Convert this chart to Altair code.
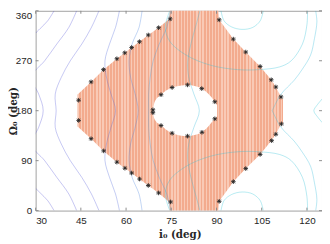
import altair as alt
import pandas as pd

# ---------------- axes ----------------
x_ticks = [30, 45, 60, 75, 90, 105, 120]
y_ticks = [0, 90, 180, 270, 360]
x_domain = [30, 125]
y_domain = [0, 360]

# ---------------- feasible region (outer boundary) ----------------
reg_i = [43.9, 48.39, 52.49, 56.95, 59.56, 61.84, 64.44, 67.37, 70.79, 74.3, 74.5,
         90.6, 90.9, 95.59, 99.7, 104.48, 108.16, 109.69, 111.41, 112.06]
reg_lo = [151.5, 129.5, 107.6, 87.3, 76.4, 67.7, 56.9, 45.3, 31.8, 15.6, 0,
          0, 16.7, 52.1, 75.7, 101.2, 126.0, 137.6, 156.2, 157.3]
reg_hi = [209.3, 231.9, 254.0, 273.6, 284.3, 293.9, 304.3, 316.4, 329.5, 345.4, 360,
          360, 343.7, 309.0, 285.7, 259.7, 235.7, 222.7, 204.8, 200.7]

# ---------------- hole ----------------
hole_i = [68.9, 69.5, 71.6, 75.28, 80.39, 85.1, 89.44, 90.2]
hole_lo = [176.4, 164.0, 153.3, 139.4, 134.2, 141.1, 165.4, 170.0]
hole_hi = [181.6, 196.0, 208.8, 221.8, 226.5, 219.8, 196.1, 190.0]

# ---------------- boundary markers ----------------
mark_i = [74.63, 70.79, 67.37, 64.44, 61.84, 59.56, 56.95, 52.49, 48.39, 44.26, 44.26,
          48.39, 52.56, 56.95, 59.62, 61.84, 64.47, 67.37, 70.79, 74.76,
          90.9, 95.59, 99.7, 104.48, 108.29, 109.69, 111.54,
          111.41, 109.69, 108.16, 104.48, 99.7, 95.59, 90.9,
          71.6, 75.28, 80.39, 85.1, 89.44, 68.9, 68.9, 71.6, 75.28, 80.39, 85.18, 89.44]
mark_om = [345.4, 329.5, 316.4, 304.3, 293.9, 284.3, 273.6, 254.0, 231.9, 198.9, 162.5,
           129.5, 107.6, 87.3, 76.4, 67.7, 56.9, 45.3, 31.8, 15.6,
           16.7, 52.1, 75.7, 101.2, 126.0, 137.6, 156.2,
           204.8, 222.7, 235.7, 259.7, 285.7, 309.0, 343.7,
           208.8, 221.8, 226.5, 219.8, 196.1, 181.6, 176.4, 153.3, 139.4, 134.2, 141.1, 165.4]

# ---------------- contour lines ----------------
om_full = [0, 30, 60, 90, 120, 150, 180, 210, 240, 270, 300, 330, 360]
c1b_i = [36.1, 34.0, 31.5, 30.0];  c1b_om = [0, 18, 32, 40]
c1t_i = [30.0, 31.5, 34.0, 36.1];  c1t_om = [320, 328, 342, 360]
c2_i = [43.6, 41.0, 37.0, 33.0, 28.5, 31.0, 32.5, 31.0, 28.5, 33.0, 37.0, 41.0, 43.6]
c3_i = [51.0, 48.5, 45.3, 41.5, 38.5, 36.5, 36.8, 36.5, 38.5, 41.5, 45.3, 48.5, 51.0]
c4_i = [57.8, 56.5, 54.5, 53.0, 53.5, 55.0, 56.5, 55.0, 53.5, 53.0, 54.5, 56.5, 57.8]
c5_i = [65.3, 64.3, 62.0, 61.0, 61.5, 63.0, 64.0, 63.0, 61.5, 61.0, 62.0, 64.3, 65.3]
c6_i = [74.8, 73.5, 71.0, 69.0, 68.0, 67.5, 67.5, 67.5, 68.0, 69.0, 71.0, 73.5, 74.8]
c7_i = [84.5, 83.0, 81.5, 80.5, 80.8, 82.5, 84.3, 82.5, 80.8, 80.5, 81.5, 83.0, 84.5]
r1b_i = [91.5, 92.5, 95.0, 98.5, 102.0, 104.5, 105.5]; r1b_om = [0, 18, 29, 33.5, 30, 18, 0]
r1t_i = [91.5, 92.5, 95.0, 98.5, 102.0, 104.5, 105.5]; r1t_om = [360, 342, 331, 326.5, 330, 342, 360]
r2b_i = [74.5, 73.0, 74.5, 80.0, 88.0, 97.0, 104.0, 111.0, 114.8, 118.5, 120.0, 120.2]
r2b_om = [0, 30, 55, 80, 98, 106, 106, 101, 90, 60, 25, 0]
r2t_i = [74.5, 73.0, 74.5, 80.0, 88.0, 97.0, 104.0, 111.0, 114.8, 118.5, 120.0, 120.2]
r2t_om = [360, 330, 305, 280, 262, 254, 254, 259, 270, 300, 335, 360]
r3b_i = [122.9, 123.3, 122.5, 121.2, 118.5, 115.8, 111.3, 108.5]
r3b_om = [0, 20, 50, 80, 105, 125, 151, 180]
r3t_i = [108.5, 111.3, 115.8, 118.5, 121.2, 122.5, 123.3, 122.9]
r3t_om = [180, 209, 235, 255, 280, 310, 340, 360]
r4_i = [125.2, 123.5, 122.3, 123.5, 125.2]; r4_om = [158, 169, 180, 191, 202]

contours = [
    ("c1b", c1b_i, c1b_om, "#5a55d6"), ("c1t", c1t_i, c1t_om, "#5a55d6"),
    ("c2", c2_i, om_full, "#5a58d8"),
    ("c3", c3_i, om_full, "#585fda"), ("c4", c4_i, om_full, "#546cdc"),
    ("c5", c5_i, om_full, "#4d84de"), ("c6", c6_i, om_full, "#42a0e0"),
    ("c7", c7_i, om_full, "#34bcdc"),
    ("r1b", r1b_i, r1b_om, "#2ec6d7"), ("r1t", r1t_i, r1t_om, "#2ec6d7"),
    ("r2b", r2b_i, r2b_om, "#30c2d8"), ("r2t", r2t_i, r2t_om, "#30c2d8"),
    ("r3b", r3b_i, r3b_om, "#33bcdb"), ("r3t", r3t_i, r3t_om, "#33bcdb"),
    ("r4", r4_i, r4_om, "#2ec6d7"),
]

rows = []
for cid, ci, co, col in contours:
    for k, (a, b) in enumerate(zip(ci, co)):
        rows.append({"id": cid, "k": k, "i": a, "om": b})
cont_df = pd.DataFrame(rows)
cont_ids = [c[0] for c in contours]
cont_cols = [c[3] for c in contours]

reg_df = pd.DataFrame({"i": reg_i, "lo": reg_lo, "hi": reg_hi})
hole_df = pd.DataFrame({"i": hole_i, "lo": hole_lo, "hi": hole_hi})
mark_df = pd.DataFrame({"i": mark_i, "om": mark_om})
xt_df = pd.DataFrame({"v": x_ticks})
yt_df = pd.DataFrame({"v": y_ticks})

W, H = 292.1, 203.8
xs = alt.Scale(domain=x_domain, nice=False, zero=False)
ys = alt.Scale(domain=y_domain, nice=False, zero=False)

label_font = "Liberation Sans"
title_font = "DejaVu Serif"

x_axis = alt.Axis(values=x_ticks, ticks=False, domain=False, grid=False,
                  labelFont=label_font, labelFontSize=10, labelColor="#262626",
                  labelPadding=5, title="i₀ (deg)", titleFont=title_font,
                  titleFontSize=10.5, titleFontWeight="bold", titleColor="#262626",
                  titleY=24, titleBaseline="middle", titleX=W / 2 + 1)
y_axis = alt.Axis(values=y_ticks, ticks=False, domain=False, grid=False,
                  labelFont=label_font, labelFontSize=10, labelColor="#262626",
                  labelPadding=4,
                  labelBaseline={"condition": {"test": "datum.value == 360", "value": "top"},
                                 "value": "middle"},
                  title="Ω₀ (deg)", titleFont=title_font, titleFontSize=10.5,
                  titleFontWeight="bold", titleColor="#262626", titleAngle=270,
                  titleX=-22.5, titleY=H / 2, titleAlign="center", titleBaseline="middle")

# striped fill (style only): columns with a fixed 1.5 px period across the area's box
box_px = (max(reg_i) - min(reg_i)) / (x_domain[1] - x_domain[0]) * W
period = 1.5 / box_px
stops = []
k = 0
while k * period < 1:
    a0 = k * period
    a1 = min((k + 0.55) * period, 1)
    a2 = min((k + 1) * period, 1)
    stops += [{"offset": a0, "color": "#f3ab8e"}, {"offset": a1, "color": "#f3ab8e"},
              {"offset": a1, "color": "#f9cab6"}, {"offset": a2, "color": "#f9cab6"}]
    k += 1
stripe_fill = {"gradient": "linear", "x1": 0, "x2": 1, "y1": 0, "y2": 0, "stops": stops}

region = alt.Chart(reg_df).mark_area(color=stripe_fill, interpolate="linear").encode(
    x=alt.X("i:Q", scale=xs, axis=x_axis),
    y=alt.Y("lo:Q", scale=ys, axis=y_axis),
    y2="hi:Q",
)
hole = alt.Chart(hole_df).mark_area(color="white", interpolate="monotone").encode(
    x=alt.X("i:Q", scale=xs), y=alt.Y("lo:Q", scale=ys), y2="hi:Q"
)
lines = alt.Chart(cont_df).mark_line(strokeWidth=1, opacity=0.35, interpolate="catmull-rom",
                                     clip=True).encode(
    x=alt.X("i:Q", scale=xs),
    y=alt.Y("om:Q", scale=ys),
    detail="id:N",
    order="k:Q",
    color=alt.Color("id:N", scale=alt.Scale(domain=cont_ids, range=cont_cols), legend=None),
)
star = "M-1,0L1,0M0,-1L0,1M-0.7,-0.7L0.7,0.7M-0.7,0.7L0.7,-0.7"
markers = alt.Chart(mark_df).mark_point(shape=star, size=22, filled=False,
                                         stroke="#262626", strokeWidth=0.9, opacity=1).encode(
    x=alt.X("i:Q", scale=xs), y=alt.Y("om:Q", scale=ys)
)

tick_col = "#8c8c8c"
xt_bot = alt.Chart(xt_df).mark_rule(color=tick_col, strokeWidth=1).encode(
    x=alt.X("v:Q", scale=xs), y=alt.value(H), y2=alt.value(H - 3))
xt_top = alt.Chart(xt_df).mark_rule(color=tick_col, strokeWidth=1).encode(
    x=alt.X("v:Q", scale=xs), y=alt.value(0), y2=alt.value(3))
yt_left = alt.Chart(yt_df).mark_rule(color=tick_col, strokeWidth=1).encode(
    y=alt.Y("v:Q", scale=ys), x=alt.value(0), x2=alt.value(3))
yt_right = alt.Chart(yt_df).mark_rule(color=tick_col, strokeWidth=1).encode(
    y=alt.Y("v:Q", scale=ys), x=alt.value(W), x2=alt.value(W - 3))

chart = alt.layer(region, hole, lines, markers, xt_bot, xt_top, yt_left, yt_right).properties(
    width=W, height=H,
    autosize=alt.AutoSizeParams(type="none"),
    padding={"left": 28.2, "top": 0.5, "right": 0, "bottom": 31},
).configure_view(stroke="#a0a0a0", strokeWidth=1)

chart.save("out.html", embed_options={"renderer": "svg", "actions": False})
